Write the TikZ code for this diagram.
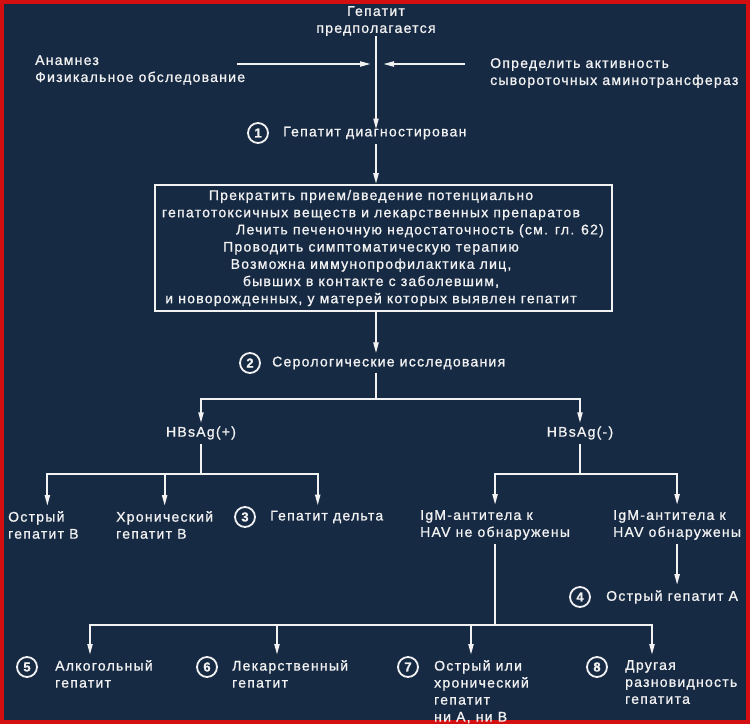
\documentclass[tikz,border=0pt]{standalone}
\usepackage{fontspec}
\setmainfont{Liberation Sans}[LetterSpace=9, FakeBold=1]
\usetikzlibrary{arrows.meta}
\usetikzlibrary{calc}
\definecolor{nightblue}{HTML}{172A44}
\definecolor{framered}{HTML}{D40F12}
\definecolor{chalk}{HTML}{F2F2F2}
\tikzset{
  every node/.style = {font = \fontsize{14}{17}\selectfont, text = chalk}
}
\tikzset{
  label text/.style = {anchor = west, align = left, inner sep = 0pt},
  step number/.style = {circle, draw = chalk, line width = 1.8pt, inner sep = 0pt,
    minimum size = 20pt, font = \fontsize{13}{13}\selectfont\bfseries},
  flow/.style = {draw = chalk, line width = 2pt},
  care box/.style = {draw = chalk, line width = 1.6pt, minimum width = 457pt, minimum height = 126pt}
}
\tikzset{
  >={Triangle[length=11pt,width=5pt]}
}

\begin{document}
\begin{tikzpicture}[x=1pt, y=-1pt]
  \fill[nightblue] (0,0) rectangle (750,724);
  \draw[framered, line width=4pt] (2,2) rectangle (748,722);
  \useasboundingbox (0,0) rectangle (750,724);

  % first look
  \node[align=center, inner sep=0pt] (top) at (376,21) {Гепатит\\предполагается};
  \node[label text] (anam) at (35,70) {Анамнез\\Физикальное обследование};
  \node[label text] (enz) at (490,73) {Определить активность\\сывороточных аминотрансфераз};
  \coordinate (cross) at (376,64);
  \node[step number] (n1) at (258,133) {1};
  \node[label text] (diag) at (283,133) {Гепатит диагностирован};

  \draw[flow, ->] (top.south) -- ([yshift=-3pt]top.south |- diag.north);
  \draw[flow, ->] ([xshift=-8pt]anam.east |- cross) -- ([xshift=-5pt]cross);
  \draw[flow, ->] ([xshift=-25pt]enz.west |- cross) -- ([xshift=7pt]cross);

  % general measures
  \node[care box] (care) at (383.5,248) {};
  \node[align=center, inner sep=0pt, font=\fontsize{14}{17.2}\selectfont] (caretext) at (371,248)
    {Прекратить прием/введение потенциально\\
     гепатотоксичных веществ и лекарственных препаратов\\
     \hspace*{98pt}Лечить печеночную недостаточность (см. гл. 62)\\
     Проводить симптоматическую терапию\\
     Возможна иммунопрофилактика лиц,\\
     бывших в контакте с заболевшим,\\
     и новорожденных, у матерей которых выявлен гепатит};
  \draw[flow, ->, shorten <=5pt] (top.south |- diag.south) -- (top.south |- care.north);

  % serology
  \node[step number] (n2) at (250,363) {2};
  \node[label text] (sero) at (272,363) {Серологические исследования};
  \coordinate (split) at (376,399);
  \draw[flow, ->, shorten >=3pt] (top.south |- care.south) -- (top.south |- sero.north);
  \draw[flow, shorten <=3pt] (top.south |- sero.south) -- (split);

  \node[inner sep=0pt] (hbp) at (201,433) {HBsAg(+)};
  \node[inner sep=0pt] (hbm) at (580,433) {HBsAg(-)};
  \draw[flow, ->, shorten >=3pt] (split) -| (hbp.north);
  \draw[flow, ->, shorten >=3pt] (split) -| (hbm.north);

  % HBsAg positive
  \coordinate (bsplit) at (hbp.south |- 0,474);
  \node[label text] (acuteB) at (8,525) {Острый\\гепатит В};
  \node[label text] (chronB) at (116,525) {Хронический\\гепатит В};
  \node[step number] (n3) at (245,517) {3};
  \node[label text] (delta) at (270,517) {Гепатит дельта};
  \draw[flow, shorten <=4pt] (hbp.south) -- (bsplit);
  \draw[flow, ->, shorten >=5pt] (bsplit) -| ([xshift=4pt]acuteB.north);
  \draw[flow, ->, shorten >=5pt] (bsplit) -| (chronB.north);
  \draw[flow, ->, shorten >=5pt] (bsplit) -| ([xshift=-9pt]delta.north);

  % HBsAg negative
  \coordinate (nsplit) at (hbm.south |- 0,474);
  \node[label text] (noHAV) at (420,525) {IgM-антитела к\\HAV не обнаружены};
  \node[label text] (HAV) at (613,525) {IgM-антитела к\\HAV обнаружены};
  \node[step number] (n4) at (580,597) {4};
  \node[label text] (acuteA) at (606,597) {Острый гепатит А};
  \draw[flow, shorten <=4pt] (hbm.south) -- (nsplit);
  \draw[flow, ->, shorten >=5pt] (nsplit) -| (noHAV.north);
  \draw[flow, ->, shorten >=5pt] (nsplit) -| (HAV.north);
  \draw[flow, ->, shorten <=4pt, shorten >=5pt] (HAV.south) -- (HAV.south |- acuteA.north);

  % other causes
  \coordinate (osplit) at (noHAV.south |- 0,625);
  \node[step number] (n5) at (27,667) {5};
  \node[label text, anchor=north west] (alc) at (55,660) {Алкогольный\\гепатит};
  \node[step number] (n6) at (207,667) {6};
  \node[label text, anchor=north west] (drug) at (232,660) {Лекарственный\\гепатит};
  \node[step number] (n7) at (408,667) {7};
  \node[label text, anchor=north west] (nonAB) at (434,660) {Острый или\\хронический\\гепатит\\ни А, ни В};
  \node[step number] (n8) at (597,667) {8};
  \node[label text, anchor=north west] (other) at (625,660) {Другая\\разновидность\\гепатита};
  \draw[flow, shorten <=4pt] (noHAV.south) -- (osplit);
  \draw[flow, ->, shorten >=5pt] (osplit) -| ([xshift=35pt]alc.north west);
  \draw[flow, ->, shorten >=5pt] (osplit) -| ([xshift=45pt]drug.north west);
  \draw[flow, ->, shorten >=5pt] (osplit) -| ([xshift=37pt]nonAB.north west);
  \draw[flow, ->, shorten >=5pt] (osplit) -| ([xshift=27pt]other.north west);
\end{tikzpicture}
\end{document}
